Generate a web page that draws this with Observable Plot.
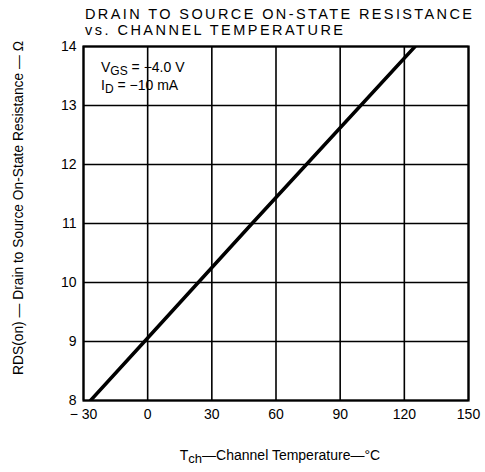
<!DOCTYPE html>
<html><head><meta charset="utf-8">
<script src="https://cdn.jsdelivr.net/npm/d3@7"></script>
<script src="https://cdn.jsdelivr.net/npm/@observablehq/plot@0.6"></script>
<style>
body{margin:0;background:#fff}
#chart svg{font-family:"Liberation Sans",Arial,sans-serif;display:block}
</style>
</head><body><div id="chart"></div>
<script>
const temps = [-26.7, 0, 48.8, 125];
const resistance = [8, 9.06, 11.0, 14];
const xTicks = [-30, 0, 30, 60, 90, 120, 150];
const yTicks = [8, 9, 10, 11, 12, 13, 14];
const titleLines = ["DRAIN TO SOURCE ON-STATE RESISTANCE", "vs. CHANNEL TEMPERATURE"];
const condLines = [["V", "GS", " = −4.0 V"], ["I", "D", " = −10 mA"]];
const xLabel = ["T", "ch", "—Channel Temperature—°C"];
const yLabel = "RDS(on) — Drain to Source On-State Resistance — Ω";

const data = temps.map((t, i) => ({t, r: resistance[i]}));
const W = 485, H = 472;
const fmtX = d => d < 0 ? "− " + Math.abs(d) : String(d);
const fmtY = d => String(Math.round(d));
const chart = Plot.plot({
  width: W, height: H,
  marginTop: 46, marginLeft: 83, marginRight: 17, marginBottom: 72,
  style: {fontFamily: '"Liberation Sans",Arial,sans-serif', fontSize: "14px", color: "#000", background: "#fff", overflow: "visible"},
  x: {domain: [-30, 150], label: null},
  y: {domain: [8, 14], label: null},
  marks: [
    Plot.gridX(xTicks, {stroke: "#000", strokeOpacity: 1, strokeWidth: 1.6}),
    Plot.gridY(yTicks, {stroke: "#000", strokeOpacity: 1, strokeWidth: 1.6}),
    Plot.frame({stroke: "#000", strokeWidth: 2.2}),
    Plot.line(data, {x: "t", y: "r", stroke: "#000", strokeWidth: 3.5, clip: true}),
    Plot.axisX({ticks: xTicks, tickSize: 0, tickPadding: 9, fontSize: 14, label: null, tickFormat: fmtX}),
    Plot.axisY({ticks: yTicks, tickSize: 0, tickPadding: 7, fontSize: 14, label: null, tickFormat: fmtY})
  ]
});
document.getElementById("chart").append(chart);

const svg = d3.select(chart);
const font = '"Liberation Sans",Arial,sans-serif';
// Title
const tw = [387, 258];
titleLines.forEach((s, i) => {
  svg.append("text").attr("x", 85).attr("y", 19 + i * 16)
    .attr("text-anchor", "start")
    .attr("font-size", 14.5).attr("font-family", font).attr("fill", "#000")
    .attr("textLength", tw[i]).attr("lengthAdjust", "spacing")
    .text(s);
});
// Condition annotation
condLines.forEach((parts, i) => {
  const t = svg.append("text").attr("x", 101).attr("y", 72 + i * 18)
    .attr("text-anchor", "start")
    .attr("font-size", 14).attr("font-family", font).attr("fill", "#000");
  t.append("tspan").text(parts[0]);
  t.append("tspan").attr("font-size", 12).attr("dy", 3).text(parts[1]);
  t.append("tspan").attr("dy", -3).text(parts[2]);
});
// X label
const xl = svg.append("text").attr("x", 280).attr("y", 460).attr("text-anchor", "middle")
  .attr("font-size", 14).attr("font-family", font).attr("fill", "#000");
xl.append("tspan").text(xLabel[0]);
xl.append("tspan").attr("font-size", 13).attr("dy", 3).text(xLabel[1]);
xl.append("tspan").attr("dy", -3).text(xLabel[2]);
// Y label
svg.append("text").attr("transform", "translate(23,208) rotate(-90)")
  .attr("text-anchor", "middle").attr("font-size", 13.8).attr("font-family", font).attr("fill", "#000")
  .text(yLabel);
</script>
</body></html>
